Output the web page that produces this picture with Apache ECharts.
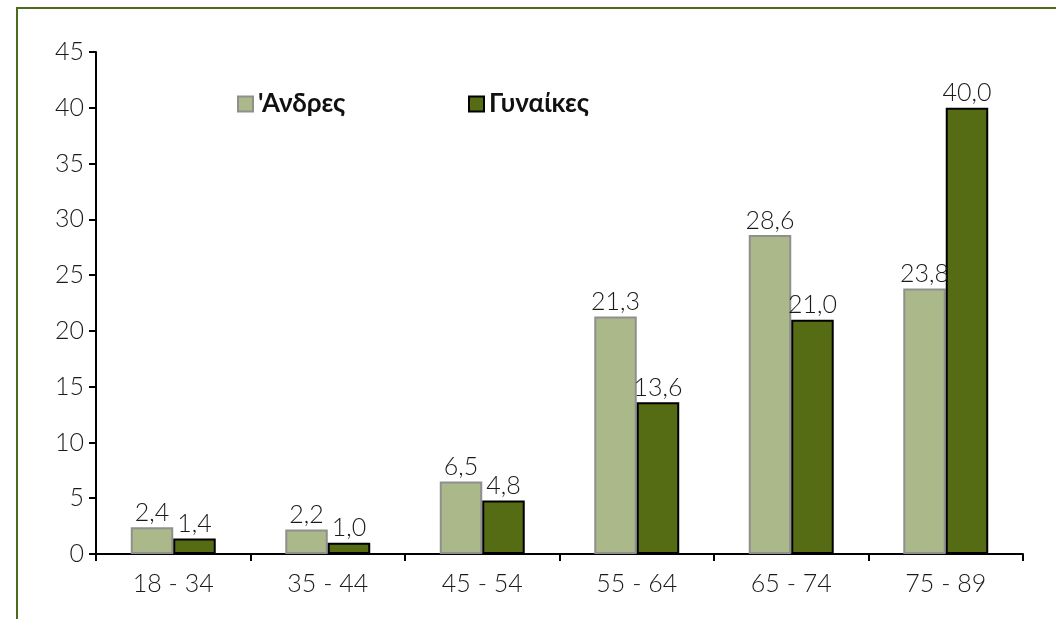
<!DOCTYPE html>
<html>
<head>
<meta charset="utf-8">
<script src="https://cdn.jsdelivr.net/npm/echarts@6/dist/echarts.min.js"></script>
<style>html,body{margin:0;padding:0;background:#fff}#c{width:1056px;height:619px}</style>
</head>
<body>
<div id="c"></div>
<script>
const categories = ['18 - 34', '35 - 44', '45 - 54', '55 - 64', '65 - 74', '75 - 89'];
const seriesNames = ["'Ανδρες", 'Γυναίκες'];
const men = [2.4, 2.2, 6.5, 21.3, 28.6, 23.8];
const women = [1.4, 1.0, 4.8, 13.6, 21.0, 40.0];
const yTicks = [0, 5, 10, 15, 20, 25, 30, 35, 40, 45];

const chart = echarts.init(document.getElementById('c'), null, {renderer: 'canvas'});
const fmt = p => p.value.toFixed(1).replace('.', ',');
const font = 'Lato, "Open Sans", sans-serif';
const txt = {fontFamily: font, fontSize: 25, fontWeight: 300, color: '#1a1a1a'};
chart.setOption({
  animation: false,
  graphic: [{
    type: 'rect', shape: {x: 17, y: 8, width: 1060, height: 640},
    style: {fill: 'none', stroke: '#4e6b1c', lineWidth: 2}, silent: true
  }],
  legend: [
    {data: [seriesNames[0]], left: 232, top: 86, itemWidth: 15, itemHeight: 15, icon: 'rect',
     textStyle: {fontFamily: font, fontSize: 26, fontWeight: 'bold', color: '#111'}},
    {data: [seriesNames[1]], left: 463, top: 86, itemWidth: 15, itemHeight: 15, icon: 'rect',
     textStyle: {fontFamily: font, fontSize: 26, fontWeight: 'bold', color: '#111'}}
  ],
  grid: {left: 96, right: 33, top: 52, bottom: 65, containLabel: false},
  xAxis: {
    type: 'category', data: categories,
    axisLine: {lineStyle: {color: '#000', width: 2}},
    axisTick: {show: true, length: 7, lineStyle: {color: '#000', width: 2}},
    axisLabel: Object.assign({margin: 17}, txt)
  },
  yAxis: {
    type: 'value', min: yTicks[0], max: yTicks[yTicks.length - 1], interval: 5,
    axisLine: {show: true, lineStyle: {color: '#000', width: 2}},
    axisTick: {show: true, length: 7, lineStyle: {color: '#000', width: 2}},
    splitLine: {show: false},
    axisLabel: Object.assign({margin: 12}, txt)
  },
  series: [
    {name: seriesNames[0], type: 'bar', data: men, barGap: '0%', barCategoryGap: '45%',
     itemStyle: {color: '#abb98a', borderColor: '#8f8f8f', borderWidth: 2},
     label: Object.assign({show: true, position: 'top', formatter: fmt, distance: 2}, txt)},
    {name: seriesNames[1], type: 'bar', data: women, barGap: '0%', barCategoryGap: '45%',
     itemStyle: {color: '#556b14', borderColor: '#000', borderWidth: 2},
     label: Object.assign({show: true, position: 'top', formatter: fmt, distance: 2}, txt)}
  ]
});
</script>
</body>
</html>
